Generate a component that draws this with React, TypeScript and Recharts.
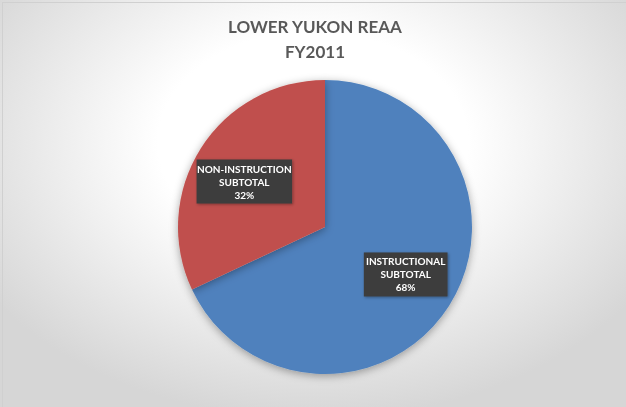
import React from "react";
import { PieChart, Pie, Cell } from "recharts";

const categories = ["INSTRUCTIONAL SUBTOTAL", "NON-INSTRUCTION SUBTOTAL"];
const values = [68, 32];
const colors = ["#4F81BD", "#C0504D"];
const titleLines = ["LOWER YUKON REAA", "FY2011"];

const data = categories.map((name, i) => ({ name, value: values[i] }));
const total = values.reduce((a, b) => a + b, 0);

const RAD = Math.PI / 180;

const renderLabel = (props: any) => {
  const { cx, cy, midAngle, outerRadius, name, value } = props;
  const x = cx + outerRadius * 0.65 * Math.cos(-midAngle * RAD);
  const y = cy + outerRadius * 0.59 * Math.sin(-midAngle * RAD) + 1;
  const words = String(name).split(" ");
  const lines = [...words, `${Math.round((value / total) * 100)}%`];
  const longest = Math.max(...lines.map((l) => l.length));
  const w = longest * 5.9 + 7;
  const lh = 13;
  const h = lines.length * lh + 5;
  return (
    <g>
      <rect
        x={x - w / 2}
        y={y - h / 2}
        width={w}
        height={h}
        fill="#3c3c3c"
        filter="url(#lblShadow)"
      />
      {lines.map((l, i) => (
        <text
          key={i}
          x={x}
          y={y - h / 2 + 2.5 + lh * i + lh / 2}
          textAnchor="middle"
          dominantBaseline="central"
          fill="#ffffff"
          fontFamily="Lato, 'Open Sans', sans-serif"
          fontWeight="bold"
          fontSize={10}
        >
          {l}
        </text>
      ))}
    </g>
  );
};

export default function App() {
  return (
    <div
      style={{
        position: "fixed",
        left: 0,
        top: 0,
        width: 626,
        height: 407,
        overflow: "hidden",
        background:
          "radial-gradient(ellipse 62% 68% at 50% 35%, #ffffff 40%, #d6d6d6 100%)",
      }}
    >
      <div
        style={{
          position: "absolute",
          left: 2,
          top: 2,
          width: 700,
          height: 500,
          borderLeft: "1px solid #d0d0d0",
          borderTop: "1px solid #d0d0d0",
        }}
      />
      <div style={{ position: "absolute", left: 0, top: 0 }}>
        <PieChart width={626} height={407} margin={{ top: 0, right: 0, bottom: 0, left: 0 }}>
          <defs>
            <filter id="pieShadow" x="-20%" y="-20%" width="140%" height="140%">
              <feDropShadow dx="0" dy="2" stdDeviation="4" floodColor="#000" floodOpacity="0.35" />
            </filter>
            <filter id="lblShadow" x="-20%" y="-20%" width="140%" height="140%">
              <feDropShadow dx="1" dy="1" stdDeviation="1.5" floodColor="#000" floodOpacity="0.35" />
            </filter>
          </defs>
          <text
            x={315}
            y={33}
            textAnchor="middle"
            fill="#595959"
            fontFamily="Lato, 'Open Sans', sans-serif"
            fontWeight="bold"
            fontSize={17}
          >
            {titleLines[0]}
          </text>
          <text
            x={315}
            y={58}
            textAnchor="middle"
            fill="#595959"
            fontFamily="Lato, 'Open Sans', sans-serif"
            fontWeight="bold"
            fontSize={17}
          >
            {titleLines[1]}
          </text>
          <Pie
            data={data}
            dataKey="value"
            nameKey="name"
            cx={325}
            cy={227}
            outerRadius={147}
            startAngle={90}
            endAngle={-270}
            stroke="none"
            labelLine={false}
            label={renderLabel}
            isAnimationActive={false}
            style={{ filter: "url(#pieShadow)" }}
          >
            {data.map((d, i) => (
              <Cell key={d.name} fill={colors[i]} />
            ))}
          </Pie>
        </PieChart>
      </div>
    </div>
  );
}
